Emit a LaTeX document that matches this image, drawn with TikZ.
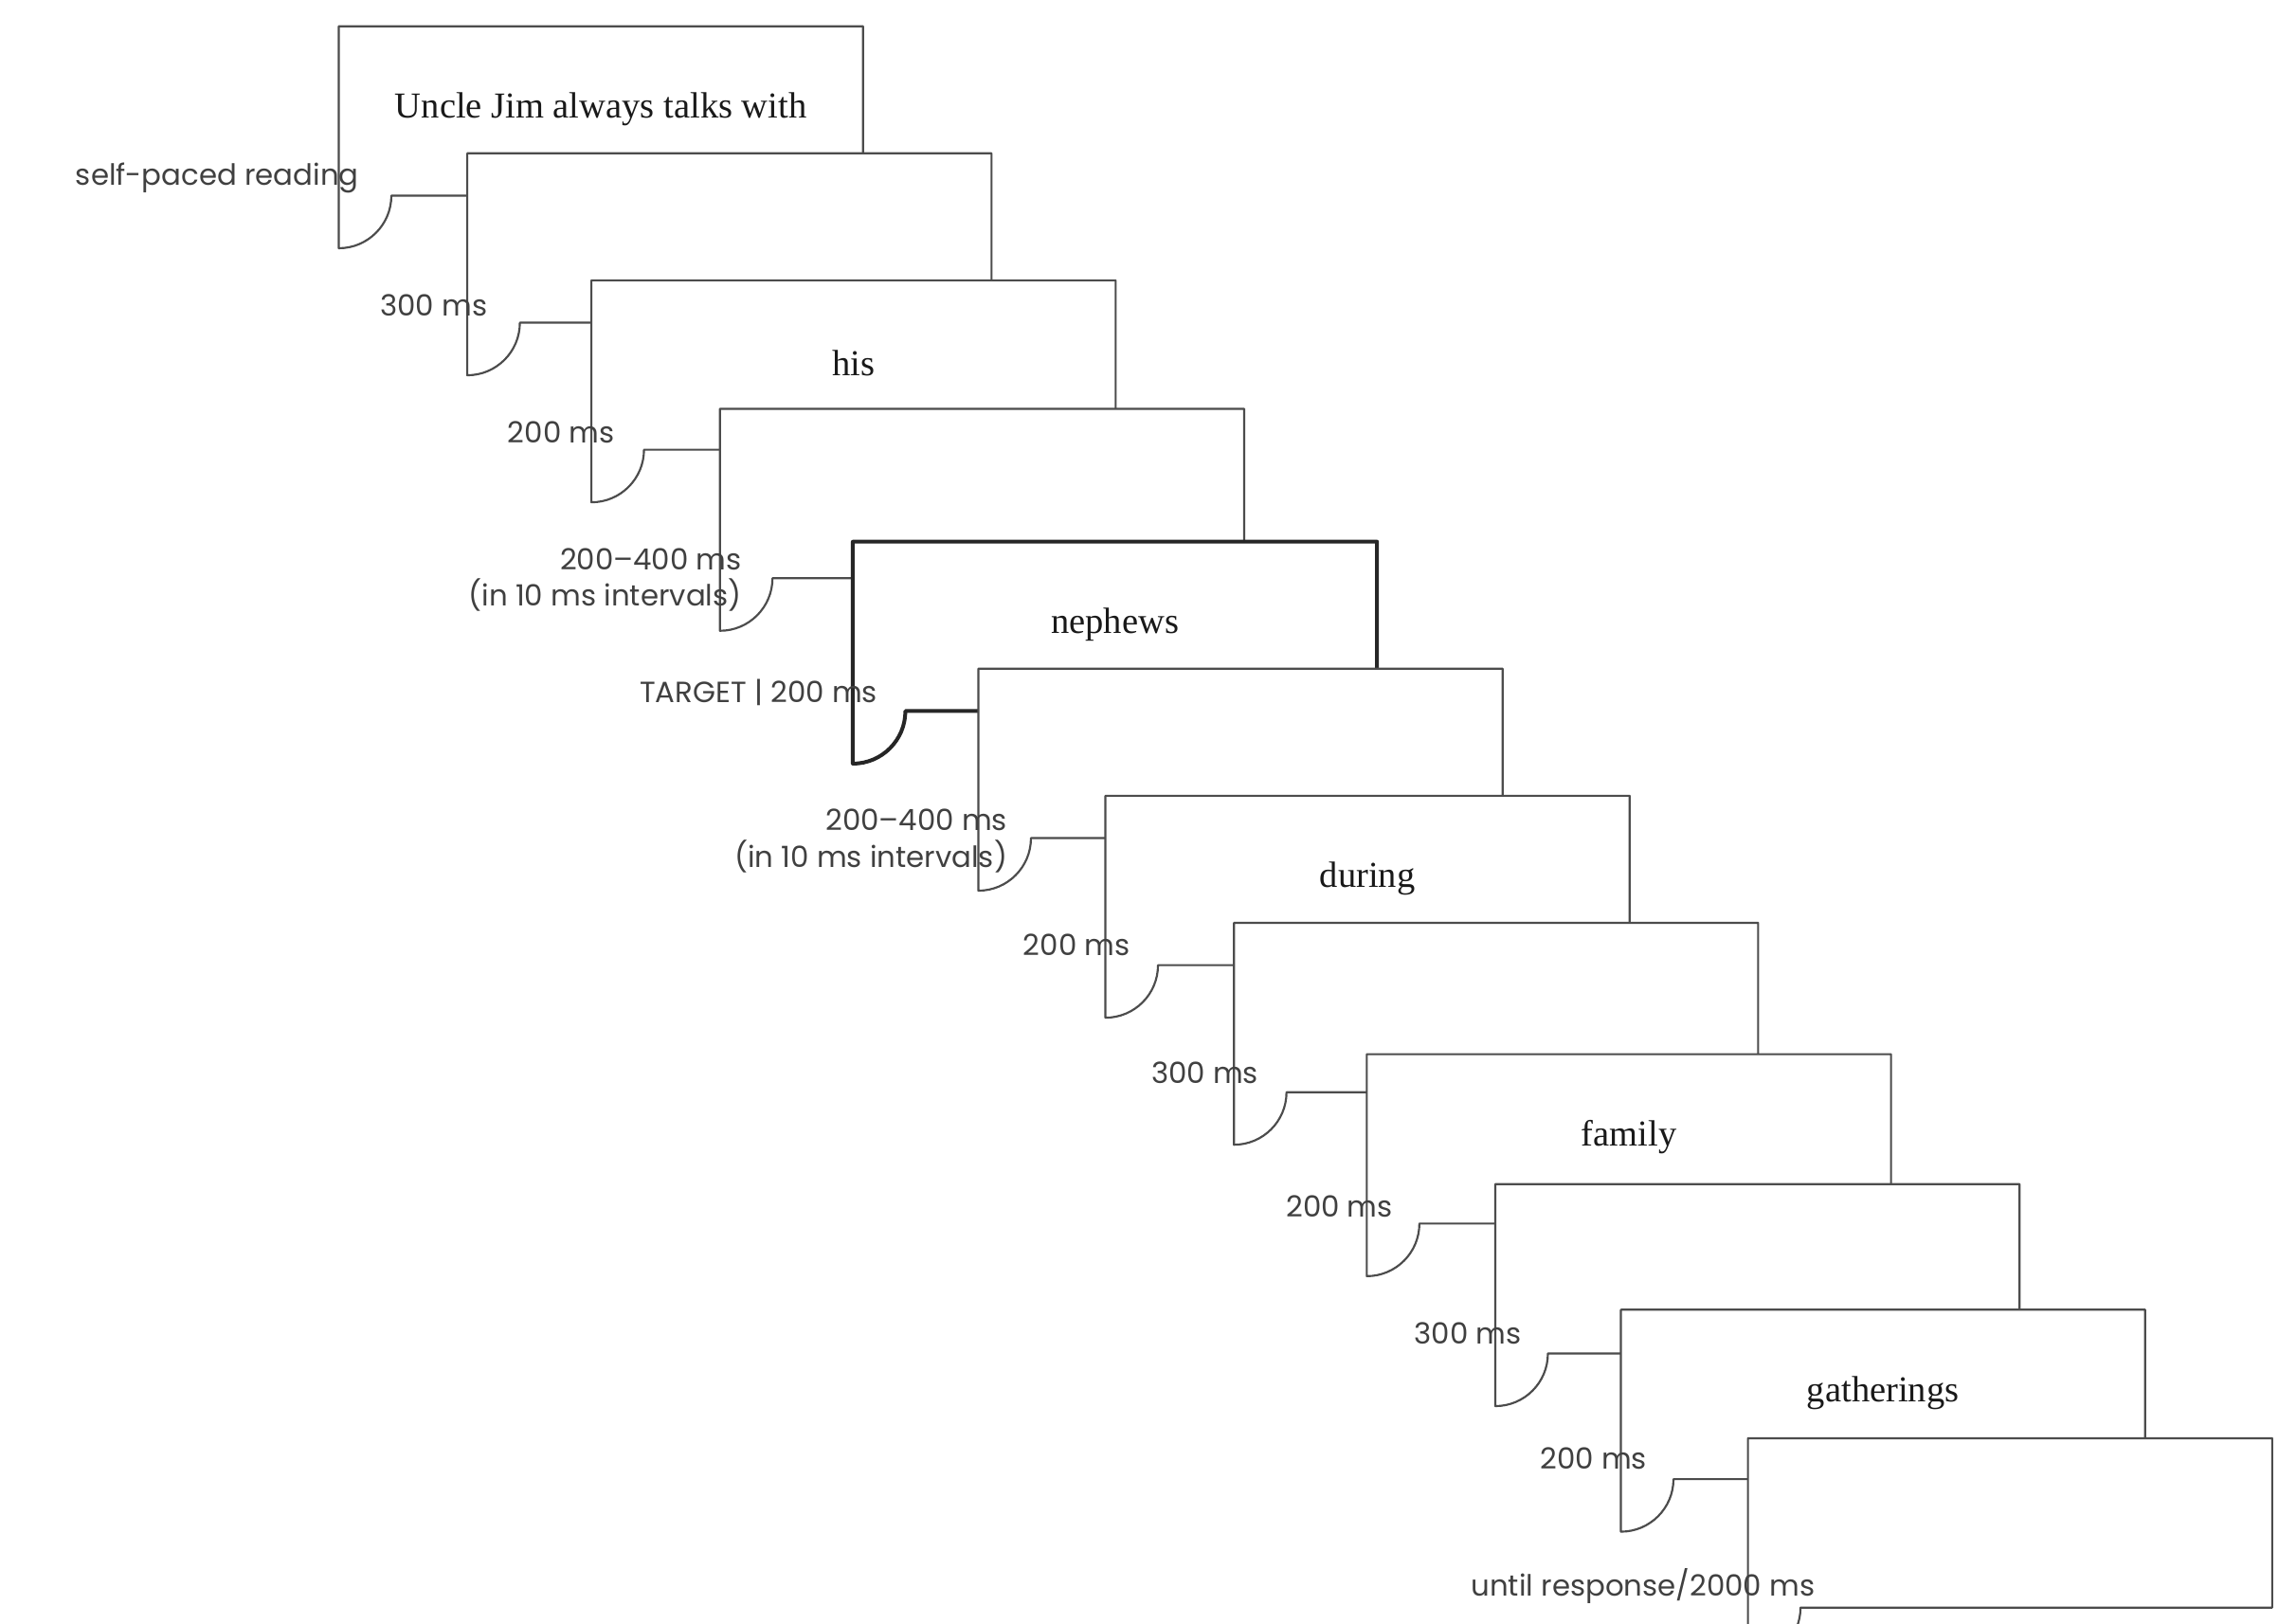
\documentclass[tikz,border=0pt]{standalone}
\usepackage{fontspec}
\setmainfont{Liberation Serif}
\newfontfamily\lblfont{Poppins}
\begin{document}
\begin{tikzpicture}[x=1pt,y=-1pt,
  frame/.style={draw=black!70,line width=1.4pt,fill=white,line join=round},
  bold/.style={draw=black!85,line width=2.6pt},
  word/.style={font=\fontsize{25}{28}\selectfont,text=black!90},
  lbl/.style={font=\lblfont\fontsize{20}{25}\selectfont,text=black!75,anchor=east,align=right,inner sep=0pt}]
\useasboundingbox (0,0) rectangle (1560,1112);
\def\W{359}\def\H{116}\def\R{36}
\foreach \L/\T/\txt/\st [count=\i] in {232/18/{Uncle Jim always talks with}/frame,320/105//frame,405/192/his/frame,493/280//frame,584/371/nephews/bold,670/458//frame,757/545/during/frame,845/632//frame,936/722/family/frame,1024/811//frame,1110/897/gatherings/frame,1197/985//frame}{
  \path[frame,\st] (\L,\T) -- ({\L+\W},\T) -- ({\L+\W},{\T+\H}) -- ({\L+\R},{\T+\H})
     arc[start angle=0,end angle=90,radius=\R] -- cycle;
  \node[word] (w\i) at ({\L+\W/2},{\T+57}) {\txt};
}
\node[lbl] (l1) at (246,122) {self-paced reading};
\node[lbl] (l2) at (334,209) {300 ms};
\node[lbl] (l3) at (421,296) {200 ms};
\node[lbl] (l4) at (508,397) {200–400 ms\\(in 10 ms intervals)};
\node[lbl] (l5) at (601,474) {TARGET | 200 ms};
\node[lbl] (l6) at (690,576) {200–400 ms\\(in 10 ms intervals)};
\node[lbl] (l7) at (774,647) {200 ms};
\node[lbl] (l8) at (862,735) {300 ms};
\node[lbl] (l9) at (954,826) {200 ms};
\node[lbl] (l10) at (1042,913) {300 ms};
\node[lbl] (l11) at (1128,999) {200 ms};
\node[lbl] (l12) at (1243,1086) {until response/2000 ms};
\end{tikzpicture}
\end{document}
